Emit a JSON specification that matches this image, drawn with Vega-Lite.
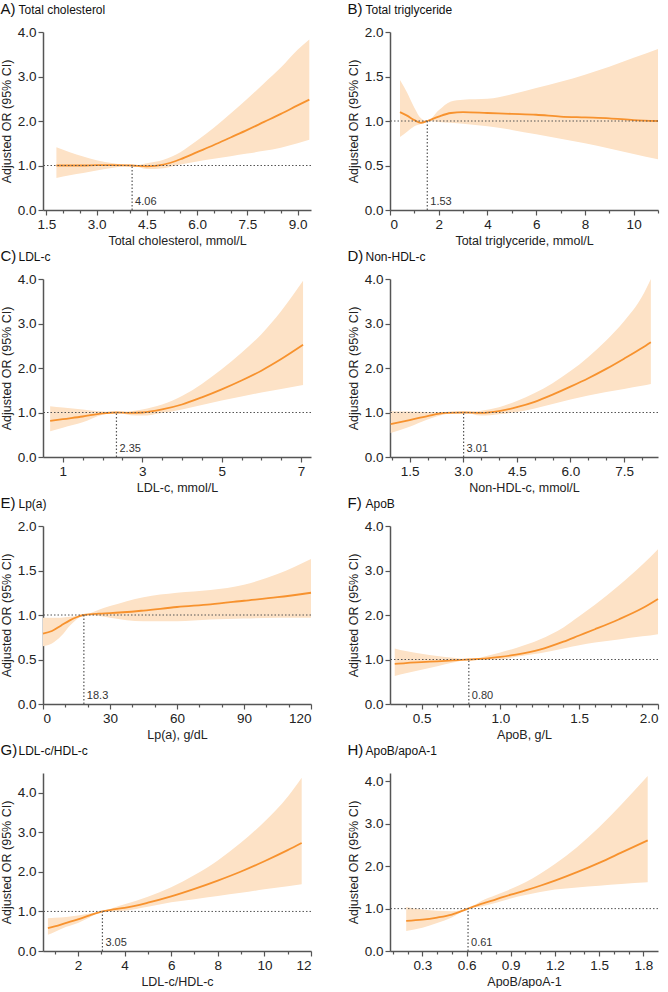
{
"$schema": "https://vega.github.io/schema/vega-lite/v6.json",
"padding": {"left": 0, "top": 1, "right": 5, "bottom": 0},
"background": "white",
"datasets": {
"curves": [
{"p":"A","x":1.8,"or":1.0,"lo":0.72,"hi":1.41},
{"p":"A","x":2.2,"or":1.0,"lo":0.78,"hi":1.3},
{"p":"A","x":2.6,"or":1.0,"lo":0.83,"hi":1.2},
{"p":"A","x":3.0,"or":1.01,"lo":0.89,"hi":1.12},
{"p":"A","x":3.5,"or":1.01,"lo":0.95,"hi":1.05},
{"p":"A","x":4.06,"or":1.0,"lo":1.0,"hi":1.0},
{"p":"A","x":4.5,"or":0.98,"lo":0.92,"hi":1.05},
{"p":"A","x":5.0,"or":1.02,"lo":0.94,"hi":1.13},
{"p":"A","x":5.5,"or":1.14,"lo":1.02,"hi":1.3},
{"p":"A","x":6.0,"or":1.3,"lo":1.09,"hi":1.56},
{"p":"A","x":6.5,"or":1.46,"lo":1.15,"hi":1.85},
{"p":"A","x":7.0,"or":1.63,"lo":1.21,"hi":2.17},
{"p":"A","x":7.5,"or":1.8,"lo":1.27,"hi":2.5},
{"p":"A","x":8.0,"or":1.98,"lo":1.33,"hi":2.85},
{"p":"A","x":8.5,"or":2.16,"lo":1.4,"hi":3.2},
{"p":"A","x":9.0,"or":2.35,"lo":1.5,"hi":3.6},
{"p":"A","x":9.35,"or":2.48,"lo":1.58,"hi":3.83},
{"p":"B","x":0.41,"or":1.1,"lo":0.82,"hi":1.46},
{"p":"B","x":0.7,"or":1.06,"lo":0.88,"hi":1.32},
{"p":"B","x":1.0,"or":1.01,"lo":0.94,"hi":1.15},
{"p":"B","x":1.27,"or":0.98,"lo":0.97,"hi":1.03},
{"p":"B","x":1.53,"or":1.0,"lo":1.0,"hi":1.0},
{"p":"B","x":2.0,"or":1.05,"lo":0.99,"hi":1.12},
{"p":"B","x":2.5,"or":1.09,"lo":0.98,"hi":1.22},
{"p":"B","x":3.0,"or":1.1,"lo":0.97,"hi":1.24},
{"p":"B","x":4.0,"or":1.09,"lo":0.94,"hi":1.25},
{"p":"B","x":5.0,"or":1.08,"lo":0.9,"hi":1.3},
{"p":"B","x":6.0,"or":1.07,"lo":0.85,"hi":1.37},
{"p":"B","x":7.0,"or":1.05,"lo":0.8,"hi":1.44},
{"p":"B","x":8.0,"or":1.04,"lo":0.75,"hi":1.52},
{"p":"B","x":9.0,"or":1.03,"lo":0.69,"hi":1.61},
{"p":"B","x":10.0,"or":1.01,"lo":0.63,"hi":1.71},
{"p":"B","x":11.0,"or":1.0,"lo":0.57,"hi":1.81},
{"p":"C","x":0.68,"or":0.81,"lo":0.58,"hi":1.14},
{"p":"C","x":1.0,"or":0.85,"lo":0.66,"hi":1.11},
{"p":"C","x":1.5,"or":0.91,"lo":0.78,"hi":1.07},
{"p":"C","x":2.0,"or":0.98,"lo":0.95,"hi":1.02},
{"p":"C","x":2.35,"or":1.0,"lo":1.0,"hi":1.0},
{"p":"C","x":2.7,"or":0.99,"lo":0.94,"hi":1.03},
{"p":"C","x":3.0,"or":1.0,"lo":0.93,"hi":1.07},
{"p":"C","x":3.5,"or":1.07,"lo":0.99,"hi":1.18},
{"p":"C","x":4.0,"or":1.18,"lo":1.07,"hi":1.37},
{"p":"C","x":4.5,"or":1.34,"lo":1.17,"hi":1.64},
{"p":"C","x":5.0,"or":1.52,"lo":1.27,"hi":1.97},
{"p":"C","x":5.5,"or":1.72,"lo":1.36,"hi":2.34},
{"p":"C","x":6.0,"or":1.94,"lo":1.45,"hi":2.76},
{"p":"C","x":6.5,"or":2.2,"lo":1.53,"hi":3.28},
{"p":"C","x":7.05,"or":2.52,"lo":1.62,"hi":3.96},
{"p":"D","x":0.97,"or":0.74,"lo":0.54,"hi":1.03},
{"p":"D","x":1.5,"or":0.83,"lo":0.68,"hi":1.02},
{"p":"D","x":2.0,"or":0.92,"lo":0.84,"hi":1.01},
{"p":"D","x":2.5,"or":0.99,"lo":0.96,"hi":1.01},
{"p":"D","x":3.01,"or":1.0,"lo":1.0,"hi":1.0},
{"p":"D","x":3.5,"or":0.99,"lo":0.93,"hi":1.04},
{"p":"D","x":4.0,"or":1.03,"lo":0.96,"hi":1.12},
{"p":"D","x":4.5,"or":1.12,"lo":1.01,"hi":1.26},
{"p":"D","x":5.0,"or":1.24,"lo":1.09,"hi":1.44},
{"p":"D","x":5.5,"or":1.4,"lo":1.19,"hi":1.66},
{"p":"D","x":6.0,"or":1.58,"lo":1.29,"hi":1.93},
{"p":"D","x":6.5,"or":1.77,"lo":1.38,"hi":2.25},
{"p":"D","x":7.0,"or":1.98,"lo":1.46,"hi":2.62},
{"p":"D","x":7.5,"or":2.21,"lo":1.53,"hi":3.05},
{"p":"D","x":8.0,"or":2.45,"lo":1.6,"hi":3.6},
{"p":"D","x":8.25,"or":2.58,"lo":1.64,"hi":4.0},
{"p":"E","x":0,"or":0.79,"lo":0.65,"hi":0.97},
{"p":"E","x":4,"or":0.82,"lo":0.68,"hi":0.97},
{"p":"E","x":8,"or":0.88,"lo":0.76,"hi":0.97},
{"p":"E","x":12,"or":0.94,"lo":0.88,"hi":0.98},
{"p":"E","x":15,"or":0.975,"lo":0.95,"hi":0.99},
{"p":"E","x":18.3,"or":1.0,"lo":1.0,"hi":1.0},
{"p":"E","x":25,"or":1.015,"lo":0.99,"hi":1.06},
{"p":"E","x":30,"or":1.02,"lo":0.97,"hi":1.1},
{"p":"E","x":45,"or":1.05,"lo":0.93,"hi":1.2},
{"p":"E","x":60,"or":1.09,"lo":0.93,"hi":1.25},
{"p":"E","x":75,"or":1.12,"lo":0.95,"hi":1.28},
{"p":"E","x":90,"or":1.16,"lo":0.96,"hi":1.34},
{"p":"E","x":105,"or":1.2,"lo":0.97,"hi":1.46},
{"p":"E","x":120,"or":1.25,"lo":0.97,"hi":1.63},
{"p":"F","x":0.33,"or":0.9,"lo":0.63,"hi":1.25},
{"p":"F","x":0.4,"or":0.92,"lo":0.69,"hi":1.19},
{"p":"F","x":0.5,"or":0.94,"lo":0.77,"hi":1.13},
{"p":"F","x":0.6,"or":0.96,"lo":0.85,"hi":1.08},
{"p":"F","x":0.7,"or":0.98,"lo":0.93,"hi":1.04},
{"p":"F","x":0.8,"or":1.0,"lo":1.0,"hi":1.0},
{"p":"F","x":0.9,"or":1.02,"lo":0.99,"hi":1.07},
{"p":"F","x":1.0,"or":1.06,"lo":1.0,"hi":1.16},
{"p":"F","x":1.1,"or":1.11,"lo":1.06,"hi":1.26},
{"p":"F","x":1.25,"or":1.22,"lo":1.14,"hi":1.45},
{"p":"F","x":1.4,"or":1.4,"lo":1.25,"hi":1.72},
{"p":"F","x":1.5,"or":1.54,"lo":1.32,"hi":1.97},
{"p":"F","x":1.6,"or":1.68,"lo":1.38,"hi":2.23},
{"p":"F","x":1.75,"or":1.9,"lo":1.45,"hi":2.66},
{"p":"F","x":1.9,"or":2.15,"lo":1.52,"hi":3.13},
{"p":"F","x":2.0,"or":2.36,"lo":1.57,"hi":3.48},
{"p":"G","x":0.71,"or":0.58,"lo":0.41,"hi":0.83},
{"p":"G","x":1.0,"or":0.62,"lo":0.48,"hi":0.84},
{"p":"G","x":1.5,"or":0.71,"lo":0.61,"hi":0.86},
{"p":"G","x":2.0,"or":0.8,"lo":0.71,"hi":0.9},
{"p":"G","x":2.5,"or":0.9,"lo":0.85,"hi":0.95},
{"p":"G","x":3.05,"or":1.0,"lo":1.0,"hi":1.0},
{"p":"G","x":3.5,"or":1.05,"lo":1.0,"hi":1.09},
{"p":"G","x":4.0,"or":1.09,"lo":1.02,"hi":1.18},
{"p":"G","x":5.0,"or":1.22,"lo":1.12,"hi":1.37},
{"p":"G","x":6.0,"or":1.38,"lo":1.23,"hi":1.61},
{"p":"G","x":7.0,"or":1.57,"lo":1.31,"hi":1.92},
{"p":"G","x":8.0,"or":1.78,"lo":1.39,"hi":2.29},
{"p":"G","x":9.0,"or":2.01,"lo":1.47,"hi":2.74},
{"p":"G","x":10.0,"or":2.27,"lo":1.56,"hi":3.27},
{"p":"G","x":11.0,"or":2.55,"lo":1.64,"hi":3.9},
{"p":"G","x":11.6,"or":2.73,"lo":1.69,"hi":4.38},
{"p":"H","x":0.19,"or":0.71,"lo":0.47,"hi":1.04},
{"p":"H","x":0.3,"or":0.74,"lo":0.55,"hi":0.98},
{"p":"H","x":0.4,"or":0.79,"lo":0.66,"hi":0.95},
{"p":"H","x":0.5,"or":0.86,"lo":0.79,"hi":0.94},
{"p":"H","x":0.61,"or":1.0,"lo":1.0,"hi":1.0},
{"p":"H","x":0.7,"or":1.11,"lo":1.05,"hi":1.18},
{"p":"H","x":0.8,"or":1.22,"lo":1.14,"hi":1.32},
{"p":"H","x":0.9,"or":1.33,"lo":1.24,"hi":1.46},
{"p":"H","x":1.0,"or":1.43,"lo":1.32,"hi":1.62},
{"p":"H","x":1.1,"or":1.54,"lo":1.39,"hi":1.82},
{"p":"H","x":1.2,"or":1.66,"lo":1.45,"hi":2.05},
{"p":"H","x":1.35,"or":1.86,"lo":1.5,"hi":2.45},
{"p":"H","x":1.5,"or":2.08,"lo":1.54,"hi":2.92},
{"p":"H","x":1.65,"or":2.32,"lo":1.58,"hi":3.45},
{"p":"H","x":1.83,"or":2.61,"lo":1.62,"hi":4.13}
],
"refs": [
{"p":"A","ref":4.06,"label":"4.06"},
{"p":"B","ref":1.53,"label":"1.53"},
{"p":"C","ref":2.35,"label":"2.35"},
{"p":"D","ref":3.01,"label":"3.01"},
{"p":"E","ref":18.3,"label":"18.3"},
{"p":"F","ref":0.8,"label":"0.80"},
{"p":"G","ref":3.05,"label":"3.05"},
{"p":"H","ref":0.61,"label":"0.61"}
]
},
"columns": 2,
"spacing": {"row": 69, "column": 79},
"bounds": "flush",
"concat": [
{"width": 268, "height": 178,
 "layer": [
  {"data": {"name": "curves"}, "transform": [{"filter": "datum.p === 'A'"}], "mark": {"type": "area", "interpolate": "monotone", "color": "#FDE2C6", "opacity": 1},
   "encoding": {"x": {"field": "x", "type": "quantitative", "scale": {"domain": [1.4, 9.4], "nice": false, "zero": false}, "axis": {"orient": "bottom", "values": [2,2.5,3.5,4,5,5.5,6.5,7,8,8.5], "labels": false, "domain": false, "tickSize": 3, "title": null}},
    "y": {"field": "lo", "type": "quantitative", "scale": {"domain": [0, 4], "nice": false}, "axis": {"values": [0,1,2,3,4], "format": ".1f", "title": "Adjusted OR (95% CI)"}}, "y2": {"field": "hi"}}},
  {"data": {"name": "curves"}, "transform": [{"filter": "datum.p === 'A'"}], "mark": {"type": "line", "interpolate": "monotone", "color": "#F7922E", "strokeWidth": 1.8},
   "encoding": {"x": {"field": "x", "type": "quantitative", "axis": {"orient": "bottom", "values": [1.5,3,4.5,6,7.5,9], "format": ".1f", "title": "Total cholesterol, mmol/L"}}, "y": {"field": "or", "type": "quantitative", "title": "Adjusted OR (95% CI)"}}},
  {"data": {"values": [{}]}, "mark": {"type": "rule", "strokeDash": [1.5, 2], "color": "#555", "strokeWidth": 1}, "encoding": {"y": {"datum": 1}}},
  {"data": {"name": "refs"}, "transform": [{"filter": "datum.p === 'A'"}], "mark": {"type": "rule", "strokeDash": [1.5, 2], "color": "#555", "strokeWidth": 1.2}, "encoding": {"x": {"field": "ref", "type": "quantitative", "axis": {"orient": "top", "style": "letter", "title": "A)"}}, "y": {"datum": 0}, "y2": {"datum": 1}}},
  {"data": {"name": "refs"}, "transform": [{"filter": "datum.p === 'A'"}], "mark": {"type": "text", "align": "left", "baseline": "bottom", "dx": 3, "dy": -3, "fontSize": 11, "color": "#333"}, "encoding": {"x": {"field": "ref", "type": "quantitative", "axis": {"orient": "top", "style": "name", "title": "Total cholesterol"}}, "y": {"datum": 0}, "text": {"field": "label"}}}
 ], "resolve": {"axis": {"x": "independent"}}},
{"width": 268, "height": 178,
 "layer": [
  {"data": {"name": "curves"}, "transform": [{"filter": "datum.p === 'B'"}], "mark": {"type": "area", "interpolate": "monotone", "color": "#FDE2C6", "opacity": 1},
   "encoding": {"x": {"field": "x", "type": "quantitative", "scale": {"domain": [0, 11], "nice": false, "zero": false}, "axis": {"orient": "bottom", "values": [1,3,5,7,9,11], "labels": false, "domain": false, "tickSize": 3, "title": null}},
    "y": {"field": "lo", "type": "quantitative", "scale": {"domain": [0, 2], "nice": false}, "axis": {"values": [0,0.5,1,1.5,2], "format": ".1f", "title": "Adjusted OR (95% CI)"}}, "y2": {"field": "hi"}}},
  {"data": {"name": "curves"}, "transform": [{"filter": "datum.p === 'B'"}], "mark": {"type": "line", "interpolate": "monotone", "color": "#F7922E", "strokeWidth": 1.8},
   "encoding": {"x": {"field": "x", "type": "quantitative", "axis": {"orient": "bottom", "values": [0,2,4,6,8,10], "format": "d", "title": "Total triglyceride, mmol/L"}}, "y": {"field": "or", "type": "quantitative", "title": "Adjusted OR (95% CI)"}}},
  {"data": {"values": [{}]}, "mark": {"type": "rule", "strokeDash": [1.5, 2], "color": "#555", "strokeWidth": 1}, "encoding": {"y": {"datum": 1}}},
  {"data": {"name": "refs"}, "transform": [{"filter": "datum.p === 'B'"}], "mark": {"type": "rule", "strokeDash": [1.5, 2], "color": "#555", "strokeWidth": 1.2}, "encoding": {"x": {"field": "ref", "type": "quantitative", "axis": {"orient": "top", "style": "letter", "title": "B)"}}, "y": {"datum": 0}, "y2": {"datum": 1}}},
  {"data": {"name": "refs"}, "transform": [{"filter": "datum.p === 'B'"}], "mark": {"type": "text", "align": "left", "baseline": "bottom", "dx": 3, "dy": -3, "fontSize": 11, "color": "#333"}, "encoding": {"x": {"field": "ref", "type": "quantitative", "axis": {"orient": "top", "style": "name", "title": "Total triglyceride"}}, "y": {"datum": 0}, "text": {"field": "label"}}}
 ], "resolve": {"axis": {"x": "independent"}}},
{"width": 268, "height": 178,
 "layer": [
  {"data": {"name": "curves"}, "transform": [{"filter": "datum.p === 'C'"}], "mark": {"type": "area", "interpolate": "monotone", "color": "#FDE2C6", "opacity": 1},
   "encoding": {"x": {"field": "x", "type": "quantitative", "scale": {"domain": [0.5, 7.25], "nice": false, "zero": false}, "axis": {"orient": "bottom", "values": [1.5,2,2.5,3.5,4,4.5,5.5,6,6.5], "labels": false, "domain": false, "tickSize": 3, "title": null}},
    "y": {"field": "lo", "type": "quantitative", "scale": {"domain": [0, 4], "nice": false}, "axis": {"values": [0,1,2,3,4], "format": ".1f", "title": "Adjusted OR (95% CI)"}}, "y2": {"field": "hi"}}},
  {"data": {"name": "curves"}, "transform": [{"filter": "datum.p === 'C'"}], "mark": {"type": "line", "interpolate": "monotone", "color": "#F7922E", "strokeWidth": 1.8},
   "encoding": {"x": {"field": "x", "type": "quantitative", "axis": {"orient": "bottom", "values": [1,3,5,7], "format": "d", "title": "LDL-c, mmol/L"}}, "y": {"field": "or", "type": "quantitative", "title": "Adjusted OR (95% CI)"}}},
  {"data": {"values": [{}]}, "mark": {"type": "rule", "strokeDash": [1.5, 2], "color": "#555", "strokeWidth": 1}, "encoding": {"y": {"datum": 1}}},
  {"data": {"name": "refs"}, "transform": [{"filter": "datum.p === 'C'"}], "mark": {"type": "rule", "strokeDash": [1.5, 2], "color": "#555", "strokeWidth": 1.2}, "encoding": {"x": {"field": "ref", "type": "quantitative", "axis": {"orient": "top", "style": "letter", "title": "C)"}}, "y": {"datum": 0}, "y2": {"datum": 1}}},
  {"data": {"name": "refs"}, "transform": [{"filter": "datum.p === 'C'"}], "mark": {"type": "text", "align": "left", "baseline": "bottom", "dx": 3, "dy": -3, "fontSize": 11, "color": "#333"}, "encoding": {"x": {"field": "ref", "type": "quantitative", "axis": {"orient": "top", "style": "name", "title": "LDL-c"}}, "y": {"datum": 0}, "text": {"field": "label"}}}
 ], "resolve": {"axis": {"x": "independent"}}},
{"width": 268, "height": 178,
 "layer": [
  {"data": {"name": "curves"}, "transform": [{"filter": "datum.p === 'D'"}], "mark": {"type": "area", "interpolate": "monotone", "color": "#FDE2C6", "opacity": 1},
   "encoding": {"x": {"field": "x", "type": "quantitative", "scale": {"domain": [0.95, 8.45], "nice": false, "zero": false}, "axis": {"orient": "bottom", "values": [1,2,2.5,3.5,4,5,5.5,6.5,7,8], "labels": false, "domain": false, "tickSize": 3, "title": null}},
    "y": {"field": "lo", "type": "quantitative", "scale": {"domain": [0, 4], "nice": false}, "axis": {"values": [0,1,2,3,4], "format": ".1f", "title": "Adjusted OR (95% CI)"}}, "y2": {"field": "hi"}}},
  {"data": {"name": "curves"}, "transform": [{"filter": "datum.p === 'D'"}], "mark": {"type": "line", "interpolate": "monotone", "color": "#F7922E", "strokeWidth": 1.8},
   "encoding": {"x": {"field": "x", "type": "quantitative", "axis": {"orient": "bottom", "values": [1.5,3,4.5,6,7.5], "format": ".1f", "title": "Non-HDL-c, mmol/L"}}, "y": {"field": "or", "type": "quantitative", "title": "Adjusted OR (95% CI)"}}},
  {"data": {"values": [{}]}, "mark": {"type": "rule", "strokeDash": [1.5, 2], "color": "#555", "strokeWidth": 1}, "encoding": {"y": {"datum": 1}}},
  {"data": {"name": "refs"}, "transform": [{"filter": "datum.p === 'D'"}], "mark": {"type": "rule", "strokeDash": [1.5, 2], "color": "#555", "strokeWidth": 1.2}, "encoding": {"x": {"field": "ref", "type": "quantitative", "axis": {"orient": "top", "style": "letter", "title": "D)"}}, "y": {"datum": 0}, "y2": {"datum": 1}}},
  {"data": {"name": "refs"}, "transform": [{"filter": "datum.p === 'D'"}], "mark": {"type": "text", "align": "left", "baseline": "bottom", "dx": 3, "dy": -3, "fontSize": 11, "color": "#333"}, "encoding": {"x": {"field": "ref", "type": "quantitative", "axis": {"orient": "top", "style": "name", "title": "Non-HDL-c"}}, "y": {"datum": 0}, "text": {"field": "label"}}}
 ], "resolve": {"axis": {"x": "independent"}}},
{"width": 268, "height": 178,
 "layer": [
  {"data": {"name": "curves"}, "transform": [{"filter": "datum.p === 'E'"}], "mark": {"type": "area", "interpolate": "monotone", "color": "#FDE2C6", "opacity": 1},
   "encoding": {"x": {"field": "x", "type": "quantitative", "scale": {"domain": [0, 120], "nice": false, "zero": false}, "axis": {"orient": "bottom", "values": [10,20,40,50,70,80,100,110], "labels": false, "domain": false, "tickSize": 3, "title": null}},
    "y": {"field": "lo", "type": "quantitative", "scale": {"domain": [0, 2], "nice": false}, "axis": {"values": [0,0.5,1,1.5,2], "format": ".1f", "title": "Adjusted OR (95% CI)"}}, "y2": {"field": "hi"}}},
  {"data": {"name": "curves"}, "transform": [{"filter": "datum.p === 'E'"}], "mark": {"type": "line", "interpolate": "monotone", "color": "#F7922E", "strokeWidth": 1.8},
   "encoding": {"x": {"field": "x", "type": "quantitative", "axis": {"orient": "bottom", "values": [0,30,60,90,120], "format": "d", "title": "Lp(a), g/dL"}}, "y": {"field": "or", "type": "quantitative", "title": "Adjusted OR (95% CI)"}}},
  {"data": {"values": [{}]}, "mark": {"type": "rule", "strokeDash": [1.5, 2], "color": "#555", "strokeWidth": 1}, "encoding": {"y": {"datum": 1}}},
  {"data": {"name": "refs"}, "transform": [{"filter": "datum.p === 'E'"}], "mark": {"type": "rule", "strokeDash": [1.5, 2], "color": "#555", "strokeWidth": 1.2}, "encoding": {"x": {"field": "ref", "type": "quantitative", "axis": {"orient": "top", "style": "letter", "title": "E)"}}, "y": {"datum": 0}, "y2": {"datum": 1}}},
  {"data": {"name": "refs"}, "transform": [{"filter": "datum.p === 'E'"}], "mark": {"type": "text", "align": "left", "baseline": "bottom", "dx": 3, "dy": -3, "fontSize": 11, "color": "#333"}, "encoding": {"x": {"field": "ref", "type": "quantitative", "axis": {"orient": "top", "style": "name", "title": "Lp(a)"}}, "y": {"datum": 0}, "text": {"field": "label"}}}
 ], "resolve": {"axis": {"x": "independent"}}},
{"width": 268, "height": 178,
 "layer": [
  {"data": {"name": "curves"}, "transform": [{"filter": "datum.p === 'F'"}], "mark": {"type": "area", "interpolate": "monotone", "color": "#FDE2C6", "opacity": 1},
   "encoding": {"x": {"field": "x", "type": "quantitative", "scale": {"domain": [0.3, 2.0], "nice": false, "zero": false}, "axis": {"orient": "bottom", "values": [0.4,0.6,0.7,0.8,0.9,1.1,1.2,1.3,1.4,1.6,1.7,1.8,1.9], "labels": false, "domain": false, "tickSize": 3, "title": null}},
    "y": {"field": "lo", "type": "quantitative", "scale": {"domain": [0, 4], "nice": false}, "axis": {"values": [0,1,2,3,4], "format": ".1f", "title": "Adjusted OR (95% CI)"}}, "y2": {"field": "hi"}}},
  {"data": {"name": "curves"}, "transform": [{"filter": "datum.p === 'F'"}], "mark": {"type": "line", "interpolate": "monotone", "color": "#F7922E", "strokeWidth": 1.8},
   "encoding": {"x": {"field": "x", "type": "quantitative", "axis": {"orient": "bottom", "values": [0.5,1,1.5,2], "format": ".1f", "title": "ApoB, g/L"}}, "y": {"field": "or", "type": "quantitative", "title": "Adjusted OR (95% CI)"}}},
  {"data": {"values": [{}]}, "mark": {"type": "rule", "strokeDash": [1.5, 2], "color": "#555", "strokeWidth": 1}, "encoding": {"y": {"datum": 1}}},
  {"data": {"name": "refs"}, "transform": [{"filter": "datum.p === 'F'"}], "mark": {"type": "rule", "strokeDash": [1.5, 2], "color": "#555", "strokeWidth": 1.2}, "encoding": {"x": {"field": "ref", "type": "quantitative", "axis": {"orient": "top", "style": "letter", "title": "F)"}}, "y": {"datum": 0}, "y2": {"datum": 1}}},
  {"data": {"name": "refs"}, "transform": [{"filter": "datum.p === 'F'"}], "mark": {"type": "text", "align": "left", "baseline": "bottom", "dx": 3, "dy": -3, "fontSize": 11, "color": "#333"}, "encoding": {"x": {"field": "ref", "type": "quantitative", "axis": {"orient": "top", "style": "name", "title": "ApoB"}}, "y": {"datum": 0}, "text": {"field": "label"}}}
 ], "resolve": {"axis": {"x": "independent"}}},
{"width": 268, "height": 178,
 "layer": [
  {"data": {"name": "curves"}, "transform": [{"filter": "datum.p === 'G'"}], "mark": {"type": "area", "interpolate": "monotone", "color": "#FDE2C6", "opacity": 1},
   "encoding": {"x": {"field": "x", "type": "quantitative", "scale": {"domain": [0.5, 12], "nice": false, "zero": false}, "axis": {"orient": "bottom", "values": [1,3,5,7,9,11], "labels": false, "domain": false, "tickSize": 3, "title": null}},
    "y": {"field": "lo", "type": "quantitative", "scale": {"domain": [0, 4.5], "nice": false}, "axis": {"values": [0,1,2,3,4], "format": ".1f", "title": "Adjusted OR (95% CI)"}}, "y2": {"field": "hi"}}},
  {"data": {"name": "curves"}, "transform": [{"filter": "datum.p === 'G'"}], "mark": {"type": "line", "interpolate": "monotone", "color": "#F7922E", "strokeWidth": 1.8},
   "encoding": {"x": {"field": "x", "type": "quantitative", "axis": {"orient": "bottom", "values": [2,4,6,8,10,12], "format": "d", "title": "LDL-c/HDL-c"}}, "y": {"field": "or", "type": "quantitative", "title": "Adjusted OR (95% CI)"}}},
  {"data": {"values": [{}]}, "mark": {"type": "rule", "strokeDash": [1.5, 2], "color": "#555", "strokeWidth": 1}, "encoding": {"y": {"datum": 1}}},
  {"data": {"name": "refs"}, "transform": [{"filter": "datum.p === 'G'"}], "mark": {"type": "rule", "strokeDash": [1.5, 2], "color": "#555", "strokeWidth": 1.2}, "encoding": {"x": {"field": "ref", "type": "quantitative", "axis": {"orient": "top", "style": "letter", "title": "G)"}}, "y": {"datum": 0}, "y2": {"datum": 1}}},
  {"data": {"name": "refs"}, "transform": [{"filter": "datum.p === 'G'"}], "mark": {"type": "text", "align": "left", "baseline": "bottom", "dx": 3, "dy": -3, "fontSize": 11, "color": "#333"}, "encoding": {"x": {"field": "ref", "type": "quantitative", "axis": {"orient": "top", "style": "name", "title": "LDL-c/HDL-c"}}, "y": {"datum": 0}, "text": {"field": "label"}}}
 ], "resolve": {"axis": {"x": "independent"}}},
{"width": 268, "height": 178,
 "layer": [
  {"data": {"name": "curves"}, "transform": [{"filter": "datum.p === 'H'"}], "mark": {"type": "area", "interpolate": "monotone", "color": "#FDE2C6", "opacity": 1},
   "encoding": {"x": {"field": "x", "type": "quantitative", "scale": {"domain": [0.08, 1.9], "nice": false, "zero": false}, "axis": {"orient": "bottom", "values": [0.1,0.2,0.4,0.5,0.7,0.8,1.0,1.1,1.3,1.4,1.6,1.7], "labels": false, "domain": false, "tickSize": 3, "title": null}},
    "y": {"field": "lo", "type": "quantitative", "scale": {"domain": [0, 4.2], "nice": false}, "axis": {"values": [0,1,2,3,4], "format": ".1f", "title": "Adjusted OR (95% CI)"}}, "y2": {"field": "hi"}}},
  {"data": {"name": "curves"}, "transform": [{"filter": "datum.p === 'H'"}], "mark": {"type": "line", "interpolate": "monotone", "color": "#F7922E", "strokeWidth": 1.8},
   "encoding": {"x": {"field": "x", "type": "quantitative", "axis": {"orient": "bottom", "values": [0.3,0.6,0.9,1.2,1.5,1.8], "format": ".1f", "title": "ApoB/apoA-1"}}, "y": {"field": "or", "type": "quantitative", "title": "Adjusted OR (95% CI)"}}},
  {"data": {"values": [{}]}, "mark": {"type": "rule", "strokeDash": [1.5, 2], "color": "#555", "strokeWidth": 1}, "encoding": {"y": {"datum": 1}}},
  {"data": {"name": "refs"}, "transform": [{"filter": "datum.p === 'H'"}], "mark": {"type": "rule", "strokeDash": [1.5, 2], "color": "#555", "strokeWidth": 1.2}, "encoding": {"x": {"field": "ref", "type": "quantitative", "axis": {"orient": "top", "style": "letter", "title": "H)"}}, "y": {"datum": 0}, "y2": {"datum": 1}}},
  {"data": {"name": "refs"}, "transform": [{"filter": "datum.p === 'H'"}], "mark": {"type": "text", "align": "left", "baseline": "bottom", "dx": 3, "dy": -3, "fontSize": 11, "color": "#333"}, "encoding": {"x": {"field": "ref", "type": "quantitative", "axis": {"orient": "top", "style": "name", "title": "ApoB/apoA-1"}}, "y": {"datum": 0}, "text": {"field": "label"}}}
 ], "resolve": {"axis": {"x": "independent"}}}
],
"config": {
 "font": "Liberation Sans",
 "view": {"stroke": null},
 "axis": {"grid": false, "domainColor": "#555", "domainWidth": 1.5, "tickColor": "#555", "tickWidth": 1.2, "tickSize": 5, "labelFontSize": 13.5, "labelColor": "#222", "labelPadding": 2, "titleFontSize": 12.5, "titleFontWeight": "normal", "titleColor": "#222"},
 "axisX": {"titlePadding": 4},
 "axisY": {"titlePadding": 4},
 "style": {
  "letter": {"domain": false, "ticks": false, "labels": false, "grid": false, "titleFontSize": 15, "titleColor": "#111", "titleAlign": "left", "titleAnchor": "start", "titleBaseline": "alphabetic", "titleX": -43, "titleY": -19},
  "name": {"domain": false, "ticks": false, "labels": false, "grid": false, "titleFontSize": 12, "titleColor": "#111", "titleAlign": "left", "titleAnchor": "start", "titleBaseline": "alphabetic", "titleX": -25, "titleY": -19}
 }
}
}
